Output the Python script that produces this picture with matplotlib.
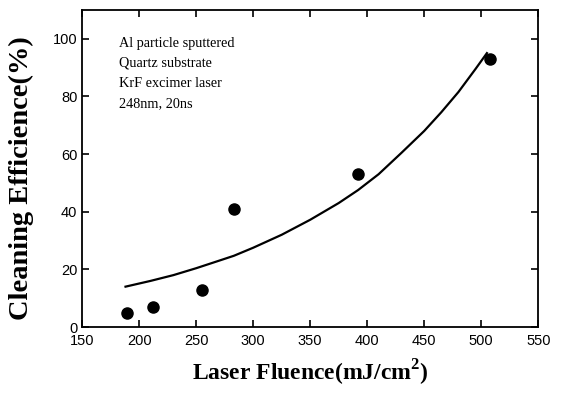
import matplotlib.pyplot as plt

plt.rcParams["mathtext.fontset"] = "custom"
plt.rcParams["mathtext.rm"] = "Liberation Serif:bold"

# measured points
fluence = [189, 212, 255, 283, 392, 508]
efficiency = [5, 7, 13, 41, 53, 93]

# fitted curve
curve_x = [188, 210, 230, 250, 270, 283, 300, 325, 350, 375, 392, 410, 430, 450, 465, 480, 495, 505]
curve_y = [14, 16, 18, 20.4, 23, 24.7, 27.5, 32, 37.2, 43, 47.5, 53, 60.4, 68, 74.5, 81.5, 89.5, 95]

note = "Al particle sputtered\nQuartz substrate\nKrF excimer laser\n248nm, 20ns"

fig = plt.figure(figsize=(5.63, 3.94), dpi=100)
ax = fig.add_axes([0.146, 0.170, 0.81, 0.805])

ax.plot(curve_x, curve_y, color="black", lw=1.6)
ax.plot(fluence, efficiency, "o", color="black", markersize=8)

ax.set_xlim(150, 550)
ax.set_ylim(0, 110)
ax.set_xticks(range(150, 551, 50))
ax.set_yticks(range(0, 101, 20))
ax.tick_params(direction="in", top=True, right=True, length=5, width=1.2,
               labelsize=10.5)
ax.tick_params(axis="x", pad=5)
for lab in ax.get_xticklabels() + ax.get_yticklabels():
    lab.set_family("Liberation Sans")
for s in ax.spines.values():
    s.set_linewidth(1.3)

ax.set_xlabel("Laser Fluence(mJ/cm$^2$)", family="Liberation Serif",
              fontsize=17, fontweight="bold", labelpad=7)
ax.set_ylabel("Cleaning Efficience(%)", family="Liberation Serif",
              fontsize=20.5, fontweight="bold")
ax.yaxis.set_label_coords(-0.106, 0.47)

ax.text(0.08, 0.915, note, transform=ax.transAxes, family="Liberation Serif",
        fontsize=10.3, va="top", ha="left", linespacing=1.7)

fig.savefig("out.png", dpi=100)
